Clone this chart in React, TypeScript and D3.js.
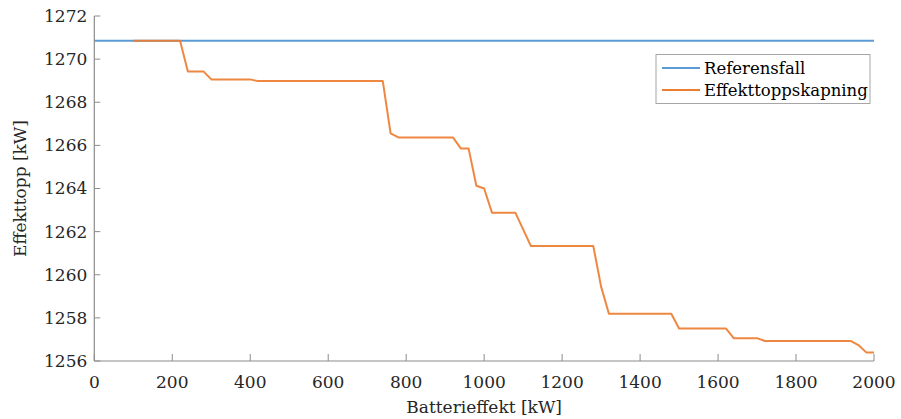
import React from "react";
import * as d3 from "d3";

const batteryPower = [100, 220, 240, 280, 300, 400, 420, 740, 760, 780, 920, 940, 960, 980, 1000, 1020, 1080, 1120, 1280, 1300, 1320, 1480, 1500, 1620, 1640, 1700, 1720, 1940, 1960, 1980, 2000];
const peakShaving = [1270.85, 1270.85, 1269.43, 1269.43, 1269.06, 1269.06, 1268.98, 1268.98, 1266.56, 1266.37, 1266.37, 1265.86, 1265.86, 1264.13, 1264.0, 1262.88, 1262.88, 1261.33, 1261.33, 1259.45, 1258.19, 1258.19, 1257.51, 1257.51, 1257.06, 1257.06, 1256.93, 1256.93, 1256.74, 1256.4, 1256.4];
const referenceX = [0, 2000];
const referenceY = [1270.85, 1270.85];
const xTicks = [0, 200, 400, 600, 800, 1000, 1200, 1400, 1600, 1800, 2000];
const yTicks = [1256, 1258, 1260, 1262, 1264, 1266, 1268, 1270, 1272];
const seriesNames = ["Referensfall", "Effekttoppskapning"];
const seriesColors = ["#5B9BD5", "#ED7D31"];

const W = 901;
const H = 419;
const FONT = '"DejaVu Serif", serif';

export default function App() {
  const x = d3.scaleLinear().domain([0, 2000]).range([94.3, 874]);
  const y = d3.scaleLinear().domain([1256, 1272]).range([361, 16]);
  const line = d3
    .line<[number, number]>()
    .x((d) => x(d[0]))
    .y((d) => y(d[1]));
  const refPts = referenceX.map((v, i) => [v, referenceY[i]] as [number, number]);
  const orPts = batteryPower.map((v, i) => [v, peakShaving[i]] as [number, number]);
  const axisColor = "#8c8c8c";
  const x0 = x(0);
  const x1 = x(2000);
  const yb = y(1256);
  const yt = y(1272);
  const ts: React.CSSProperties = { fontFamily: FONT };

  return (
    <svg
      width={W}
      height={H}
      style={{ position: "absolute", left: 0, top: 0, background: "#fff", fontFamily: FONT }}
    >
      <rect x={0} y={0} width={W} height={H} fill="#fff" />
      <path d={line(refPts) || ""} fill="none" stroke={seriesColors[0]} strokeWidth={2} />
      <path d={line(orPts) || ""} fill="none" stroke={seriesColors[1]} strokeWidth={2} strokeLinejoin="round" opacity={0.92} />
      <line x1={x0} x2={x0} y1={yt} y2={yb} stroke={axisColor} strokeWidth={1.2} />
      <line x1={x0} x2={x1} y1={yb} y2={yb} stroke={axisColor} strokeWidth={1.2} />
      {yTicks.map((t) => (
        <g key={"y" + t}>
          <line x1={x0} x2={x0 + 6} y1={y(t)} y2={y(t)} stroke={axisColor} strokeWidth={1} />
          <text x={x0 - 7} y={y(t)} dy="0.35em" textAnchor="end" fontSize={17} fill="#262626" style={ts}>
            {t}
          </text>
        </g>
      ))}
      {xTicks.map((t) => (
        <g key={"x" + t}>
          <line x1={x(t)} x2={x(t)} y1={yb} y2={yb - 7} stroke={axisColor} strokeWidth={1} />
          <text x={x(t)} y={388} textAnchor="middle" fontSize={17} fill="#262626" style={ts}>
            {t}
          </text>
        </g>
      ))}
      <text x={(x0 + x1) / 2} y={413} textAnchor="middle" fontSize={17} fill="#262626" style={ts}>
        Batterieffekt [kW]
      </text>
      <text
        transform={`translate(26, ${(yt + yb) / 2}) rotate(-90)`}
        textAnchor="middle"
        fontSize={17}
        fill="#262626"
        style={ts}
      >
        Effekttopp [kW]
      </text>
      <rect x={656} y={54.5} width={214} height={49} fill="#fff" stroke="#a6a6a6" strokeWidth={1} />
      {seriesNames.map((n, i) => (
        <g key={n}>
          <line x1={662} x2={700} y1={68 + i * 22} y2={68 + i * 22} stroke={seriesColors[i]} strokeWidth={2} />
          <text x={704} y={68 + i * 22} dy="0.35em" fontSize={16.5} fill="#000" style={ts}>
            {n}
          </text>
        </g>
      ))}
    </svg>
  );
}
